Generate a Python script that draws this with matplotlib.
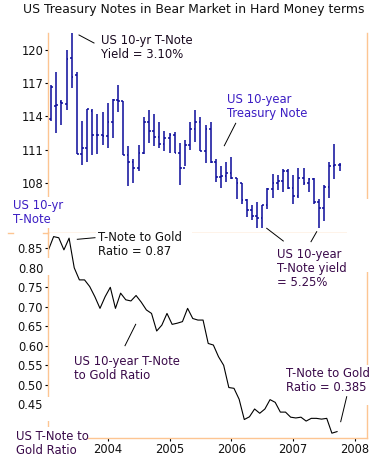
import numpy as np
import matplotlib
matplotlib.use('Agg')
import matplotlib.pyplot as plt
from matplotlib.lines import Line2D
from matplotlib.patches import Rectangle

# monthly OHLC of the 10-year T-Note future, Feb 2003 .. Oct 2007
note_high = [116.8, 118.0, 115.5, 120.0, 121.5, 118.0, 113.6, 114.7, 114.7, 114.2,
             114.4, 115.2, 115.6, 116.8, 115.4, 111.3, 110.1, 111.4, 113.9, 114.6,
             114.2, 113.5, 112.7, 112.5, 112.6, 111.6, 111.9, 113.5, 114.6, 113.9,
             113.2, 113.5, 110.1, 109.5, 109.9, 110.3, 108.4, 108.0, 106.5, 106.0,
             106.3, 106.0, 107.5, 108.8, 108.7, 109.2, 109.2, 108.7, 109.3, 109.3,
             108.4, 108.4, 106.5, 107.8, 109.9, 111.5, 109.8]
note_low = [113.6, 112.5, 113.2, 114.6, 116.6, 110.6, 109.6, 109.9, 110.5, 110.6,
            111.4, 111.1, 112.0, 114.4, 110.5, 107.7, 108.0, 109.1, 110.6, 111.6,
            111.3, 111.1, 110.9, 110.7, 110.7, 107.8, 109.5, 111.0, 111.7, 110.9,
            109.8, 109.8, 108.1, 107.5, 108.1, 108.3, 106.5, 106.1, 104.9, 104.6,
            103.9, 103.9, 105.6, 106.6, 107.3, 107.2, 107.4, 106.1, 106.6, 107.8,
            107.2, 106.1, 103.9, 104.5, 106.6, 108.3, 109.1]
note_open = [113.8, 114.9, 115.3, 115.1, 119.3, 117.7, 110.6, 111.1, 114.5, 112.3,
             112.3, 112.2, 113.5, 115.5, 115.4, 110.5, 109.9, 109.3, 110.7, 113.5,
             112.7, 112.1, 111.5, 112.0, 112.3, 110.7, 109.3, 111.4, 112.9, 113.5,
             110.9, 112.9, 109.9, 108.5, 108.6, 108.9, 108.4, 108.0, 106.4, 105.5,
             105.0, 104.8, 106.0, 107.4, 108.0, 108.2, 109.1, 107.5, 106.8, 108.4,
             108.0, 108.3, 106.3, 105.7, 107.6, 109.5, 109.6]
note_close = [116.7, 115.0, 115.2, 119.2, 117.6, 110.6, 111.1, 114.7, 112.3, 112.3,
              112.2, 113.5, 115.5, 115.4, 110.5, 109.9, 109.3, 110.7, 113.5, 112.7,
              112.1, 111.5, 112.0, 112.3, 110.7, 109.3, 111.4, 112.9, 113.5, 110.9,
              112.9, 109.9, 108.5, 108.6, 108.9, 108.4, 108.0, 106.4, 105.5, 105.0,
              104.8, 106.0, 107.4, 108.0, 108.2, 109.1, 107.5, 106.8, 108.4, 108.0,
              108.3, 106.3, 105.7, 107.6, 109.5, 109.6, 109.6]
note_dates = 2003 + (1 + np.arange(len(note_high))) / 12.0

# T-Note price divided by gold price, monthly Jan 2003 .. Sep 2007
ratio = [0.846, 0.880, 0.877, 0.846, 0.876, 0.800, 0.769, 0.769, 0.752, 0.726,
         0.696, 0.726, 0.750, 0.696, 0.735, 0.718, 0.715, 0.729, 0.712, 0.692,
         0.683, 0.638, 0.653, 0.683, 0.655, 0.658, 0.662, 0.696, 0.670, 0.666,
         0.666, 0.606, 0.602, 0.572, 0.550, 0.493, 0.491, 0.463, 0.411, 0.418,
         0.438, 0.427, 0.438, 0.462, 0.455, 0.430, 0.430, 0.417, 0.415, 0.417,
         0.407, 0.414, 0.414, 0.412, 0.414, 0.376, 0.380]
ratio_dates = 2003 + (0.5 + np.arange(len(ratio))) / 12.0

top_ticks = [108, 111, 114, 117, 120]
bottom_ticks = [0.45, 0.50, 0.55, 0.60, 0.65, 0.70, 0.75, 0.80, 0.85]
years = [2004, 2005, 2006, 2007, 2008]

W, H = 379, 458
ORANGE = '#fdc592'
BAR = '#0a0a9a'
PURPLE = '#3a0a4a'
BLUE = '#3c1ec4'
FS = 8.4
plt.rcParams['font.family'] = ['DejaVu Sans']


def fx(x):
    return x / W


def fy(y):
    return 1 - y / H


fig = plt.figure(figsize=(W / 100, H / 100), dpi=100)
x0, x1 = 48.3, 366.7
ax = fig.add_axes([fx(x0), fy(232.7), (x1 - x0) / W, (232.7 - 33) / H])
ax2 = fig.add_axes([fx(x0), fy(437.5), (x1 - x0) / W, (437.5 - 232.7) / H])

for a in (ax, ax2):
    a.set_xlim(2003.039, 2008.188)
    for s in a.spines.values():
        s.set_color(ORANGE)
        s.set_linewidth(1.0)
    a.tick_params(axis='y', length=2.2, width=0.8, color='black', pad=1.5,
                  labelsize=8.3, labelcolor='#111111')
ax.spines['top'].set_visible(False)
ax2.spines['top'].set_visible(False)

# top panel: OHLC bars
ax.set_ylim(103.48, 121.54)
tw = 0.028
ax.vlines(note_dates, note_low, note_high, color=BAR, lw=1.1)
ax.hlines(note_open, note_dates - tw, note_dates, color=BAR, lw=1.1)
ax.hlines(note_close, note_dates, note_dates + tw, color=BAR, lw=1.1)
ax.set_yticks(top_ticks)
ax.set_xticks([])

# bottom panel: ratio line
ax2.set_ylim(0.3649, 0.890)
ax2.plot(ratio_dates, ratio, color='black', lw=0.8)
ax2.set_yticks(bottom_ticks)
ax2.set_yticklabels(['%.2f' % v for v in bottom_ticks])
ax2.set_xticks(years)
ax2.tick_params(axis='x', length=2.2, width=0.8, color='black', pad=2,
                labelsize=8.3, labelcolor='#111111')

# gaps in the frame lines
for (rx0, ry0, rx1, ry1) in [(360, 199, 372, 272), (347, 229, 372, 236),
                             (96, 229, 192, 236), (45, 197, 51, 228),
                             (45, 258, 51, 275), (45, 397, 51, 421),
                             (45, 427, 88, 441), (362, 365, 372, 405)]:
    fig.add_artist(Rectangle((fx(rx0), fy(ry1)), (rx1 - rx0) / W, (ry1 - ry0) / H,
                             transform=fig.transFigure, facecolor='white',
                             edgecolor='none', zorder=2))
for (sx0, sx1) in [(8, 13), (43, 48.3)]:
    fig.add_artist(Line2D([fx(sx0), fx(sx1)], [fy(232.7), fy(232.7)],
                          transform=fig.transFigure, color=ORANGE, lw=1.0, zorder=2))

# leader lines
for (lx0, ly0, lx1, ly1) in [(79, 35, 94, 43), (235.7, 123.3, 224.3, 145.7),
                             (77.3, 239.3, 95, 237.7), (135.7, 324.3, 125, 345.7),
                             (266.7, 228.3, 283.3, 241), (316.7, 231.7, 311, 241.7),
                             (346.7, 396.7, 340.7, 421.7)]:
    fig.add_artist(Line2D([fx(lx0), fx(lx1)], [fy(ly0), fy(ly1)],
                          transform=fig.transFigure, color='black', lw=0.7, zorder=3))

fig.text(fx(193.5), fy(10), 'US Treasury Notes in Bear Market in Hard Money terms',
         ha='center', va='center', fontsize=8.9, color='#111111')
labels = [
    (101, 34, 'US 10-yr T-Note\nYield = 3.10%', '#1a0a20'),
    (226.7, 93, 'US 10-year\nTreasury Note', BLUE),
    (13.3, 199, 'US 10-yr\nT-Note', BLUE),
    (97.7, 230.7, 'T-Note to Gold\nRatio = 0.87', '#111111'),
    (277, 248.3, 'US 10-year\nT-Note yield\n= 5.25%', PURPLE),
    (74, 355, 'US 10-year T-Note\nto Gold Ratio', PURPLE),
    (286, 366.7, 'T-Note to Gold\nRatio = 0.385', PURPLE),
    (15.7, 430, 'US T-Note to\nGold Ratio', PURPLE),
]
for (tx, ty, s, c) in labels:
    fig.text(fx(tx), fy(ty), s, ha='left', va='top', fontsize=FS, color=c,
             linespacing=1.1, zorder=4)

fig.savefig('out.png', dpi=100)
